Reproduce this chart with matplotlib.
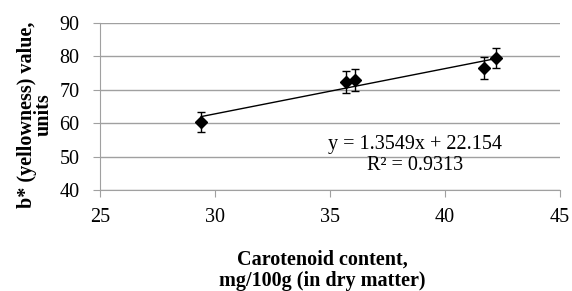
import numpy as np
import matplotlib.pyplot as plt

plt.rcParams['font.family'] = ['Liberation Serif', 'DejaVu Serif']

# Carotenoid content vs b* value
carotenoid = [29.4, 35.7, 36.1, 41.7, 42.2]
b_value = [60.3, 72.4, 72.9, 76.5, 79.5]
b_err = [3.0, 3.3, 3.2, 3.2, 2.9]
slope, intercept = 1.3549, 22.154
r2 = 0.9313

fig = plt.figure(figsize=(5.72, 2.91), dpi=100)
ax = fig.add_axes([0.175, 0.347, 0.804, 0.574])

ax.errorbar(carotenoid, b_value, yerr=b_err, fmt='D', color='black',
            markersize=6.5, ecolor='black', elinewidth=1, capsize=3, capthick=1, zorder=3)

xs = np.array([min(carotenoid), max(carotenoid)])
ax.plot(xs, slope * xs + intercept, color='black', linewidth=1, zorder=2)

ax.set_xlim(25, 45)
ax.set_ylim(40, 90)
ax.set_xticks([25, 30, 35, 40, 45])
ax.set_yticks([40, 50, 60, 70, 80, 90])
ax.grid(axis='y', color='#a0a0a0', linewidth=1)
ax.set_axisbelow(True)
for s in ['top', 'right']:
    ax.spines[s].set_visible(False)
for s in ['left', 'bottom']:
    ax.spines[s].set_color('#a0a0a0')
ax.tick_params(colors='#a0a0a0', labelcolor='black', labelsize=14.5, length=5)
ax.tick_params(axis='x', pad=8)
ax.tick_params(axis='y', pad=10)

ax.text(0.685, 0.21, f"y = {slope}x + {intercept}\nR² = {r2}", transform=ax.transAxes,
        ha='center', va='center', fontsize=14.5, linespacing=1.2)

ax.set_ylabel("b* (yellowness) value,\nunits", fontsize=14.5, fontweight='bold',
              linespacing=0.8)
ax.yaxis.set_label_coords(-0.1, 0.45)
ax.set_xlabel("Carotenoid content,\nmg/100g (in dry matter)", fontsize=14.5,
              fontweight='bold', linespacing=1.12, labelpad=16)
ax.xaxis.label.set_x(0.483)

fig.savefig("out.png", dpi=100)
